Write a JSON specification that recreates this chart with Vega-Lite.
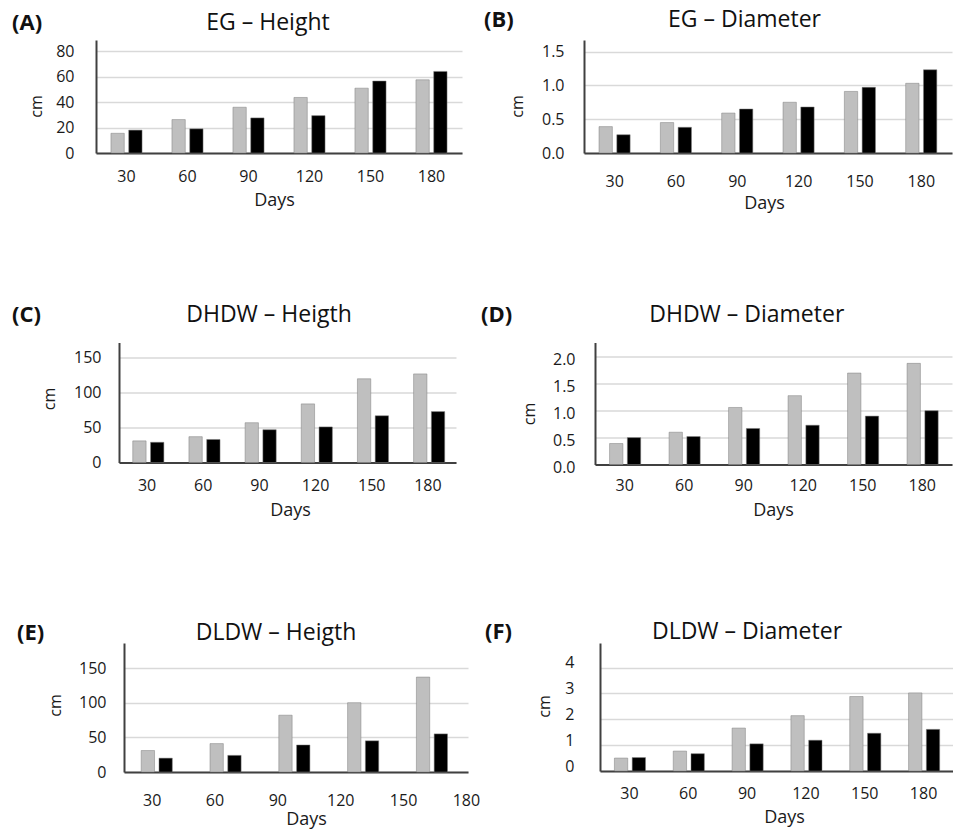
{
  "$schema": "https://vega.github.io/schema/vega-lite/v6.json",
  "padding": {"left": 11, "top": 9, "right": 0, "bottom": 0},
  "background": "white",
  "config": {
    "font": "Open Sans",
    "view": {"stroke": null},
    "axis": {"domainColor": "#404040", "domainWidth": 2, "ticks": false, "tickSize": 0, "labelColor": "#1a1a1a", "labelFontSize": 16, "labelFont": "Open Sans", "titleFont": "Open Sans", "titleFontSize": 18, "titleFontWeight": "normal", "titleColor": "#1a1a1a", "gridColor": "#d9d9d9", "gridWidth": 1.5},
    "axisX": {"grid": false, "labelAngle": 0},
    "axisY": {"grid": true, "titleFontSize": 16},
    "title": {"fontSize": 23, "fontWeight": "normal", "color": "#111111", "font": "Open Sans", "frame": "group"},
    "bar": {"stroke": "#7f7f7f", "strokeWidth": 0.5}
  },
  "columns": 1,
  "align": "none",
  "spacing": 90.5,
  "concat": [
    {
      "columns": 2,
      "align": "none",
      "spacing": 0,
      "concat": [
        {"width": 1, "height": 1, "data": {"values": []}, "mark": "point", "view": {"fill": "white", "stroke": null}},
        {
          "columns": 2,
          "align": "none",
          "spacing": 22,
          "concat": [
            {
              "title": {"text": "(A)", "anchor": "start", "frame": "bounds", "fontWeight": "bold", "fontSize": 22, "offset": -23, "dx": -16},
              "vconcat": [
                {
                  "width": 366, "height": 113,
                  "title": {"text": "EG – Height", "offset": 5, "dx": -11},
                  "data": {"values": [
                    {"day": 30, "series": "S1", "value": 15.5}, {"day": 30, "series": "S2", "value": 18},
                    {"day": 60, "series": "S1", "value": 26.3}, {"day": 60, "series": "S2", "value": 19},
                    {"day": 90, "series": "S1", "value": 36}, {"day": 90, "series": "S2", "value": 27.6},
                    {"day": 120, "series": "S1", "value": 43.7}, {"day": 120, "series": "S2", "value": 29.4},
                    {"day": 150, "series": "S1", "value": 51}, {"day": 150, "series": "S2", "value": 56.6},
                    {"day": 180, "series": "S1", "value": 57.6}, {"day": 180, "series": "S2", "value": 64.2}
                  ]},
                  "mark": "bar",
                  "encoding": {
                    "x": {"field": "day", "type": "ordinal", "title": "Days", "scale": {"paddingInner": 0.49, "paddingOuter": 0.245}, "axis": {"labelPadding": 15, "titlePadding": 7.5, "titleX": 178}},
                    "xOffset": {"field": "series", "type": "nominal", "scale": {"paddingInner": 0.25}},
                    "y": {"field": "value", "type": "quantitative", "title": "cm", "scale": {"domain": [0, 88.9], "nice": false}, "axis": {"values": [0, 20, 40, 60, 80], "labelPadding": 22, "titleX": -52, "titleY": 66}},
                    "color": {"field": "series", "type": "nominal", "scale": {"domain": ["S1", "S2"], "range": ["#bfbfbf", "#000000"]}, "legend": null}
                  }
                }
              ]
            },
            {
              "title": {"text": "(B)", "anchor": "start", "frame": "bounds", "fontWeight": "bold", "fontSize": 22, "offset": -23, "dx": -25},
              "vconcat": [
                {
                  "width": 368, "height": 113,
                  "title": {"text": "EG – Diameter", "offset": 8, "dx": -23.5},
                  "data": {"values": [
                    {"day": 30, "series": "S1", "value": 0.39}, {"day": 30, "series": "S2", "value": 0.27},
                    {"day": 60, "series": "S1", "value": 0.45}, {"day": 60, "series": "S2", "value": 0.38},
                    {"day": 90, "series": "S1", "value": 0.59}, {"day": 90, "series": "S2", "value": 0.65},
                    {"day": 120, "series": "S1", "value": 0.75}, {"day": 120, "series": "S2", "value": 0.68},
                    {"day": 150, "series": "S1", "value": 0.91}, {"day": 150, "series": "S2", "value": 0.97},
                    {"day": 180, "series": "S1", "value": 1.03}, {"day": 180, "series": "S2", "value": 1.23}
                  ]},
                  "mark": "bar",
                  "encoding": {
                    "x": {"field": "day", "type": "ordinal", "title": "Days", "scale": {"paddingInner": 0.49, "paddingOuter": 0.245}, "axis": {"labelPadding": 20, "titlePadding": 5.5, "titleX": 180}},
                    "xOffset": {"field": "series", "type": "nominal", "scale": {"paddingInner": 0.25}},
                    "y": {"field": "value", "type": "quantitative", "title": "cm", "scale": {"domain": [0, 1.67], "nice": false}, "axis": {"values": [0, 0.5, 1, 1.5], "format": ".1f", "labelPadding": 20, "titleX": -59, "titleY": 66}},
                    "color": {"field": "series", "type": "nominal", "scale": {"domain": ["S1", "S2"], "range": ["#bfbfbf", "#000000"]}, "legend": null}
                  }
                }
              ]
            }
          ]
        }
      ]
    },
    {
      "columns": 1,
      "align": "none",
      "spacing": 101.5,
      "concat": [
        {
          "columns": 2,
          "align": "none",
          "spacing": 0,
          "concat": [
            {"width": 1, "height": 1, "data": {"values": []}, "mark": "point", "view": {"fill": "white", "stroke": null}},
            {
              "columns": 2,
              "align": "none",
              "spacing": 25,
              "concat": [
                {
                  "title": {"text": "(C)", "anchor": "start", "frame": "bounds", "fontWeight": "bold", "fontSize": 22, "offset": -23, "dx": -29},
                  "vconcat": [
                    {
                      "width": 337, "height": 120,
                      "title": {"text": "DHDW – Heigth", "offset": 16, "dx": -18.5},
                      "data": {"values": [
                        {"day": 30, "series": "S1", "value": 31}, {"day": 30, "series": "S2", "value": 29},
                        {"day": 60, "series": "S1", "value": 37}, {"day": 60, "series": "S2", "value": 33},
                        {"day": 90, "series": "S1", "value": 57}, {"day": 90, "series": "S2", "value": 47},
                        {"day": 120, "series": "S1", "value": 84}, {"day": 120, "series": "S2", "value": 51},
                        {"day": 150, "series": "S1", "value": 120}, {"day": 150, "series": "S2", "value": 67},
                        {"day": 180, "series": "S1", "value": 127}, {"day": 180, "series": "S2", "value": 73}
                      ]},
                      "mark": "bar",
                      "encoding": {
                        "x": {"field": "day", "type": "ordinal", "title": "Days", "scale": {"paddingInner": 0.49, "paddingOuter": 0.245}, "axis": {"labelPadding": 15, "titlePadding": 7.5, "titleX": 171}},
                        "xOffset": {"field": "series", "type": "nominal", "scale": {"paddingInner": 0.25}},
                        "y": {"field": "value", "type": "quantitative", "title": "cm", "scale": {"domain": [0, 172], "nice": false}, "axis": {"values": [0, 50, 100, 150], "labelPadding": 18, "titleX": -62, "titleY": 56}},
                        "color": {"field": "series", "type": "nominal", "scale": {"domain": ["S1", "S2"], "range": ["#bfbfbf", "#000000"]}, "legend": null}
                      }
                    }
                  ]
                },
                {
                  "title": {"text": "(D)", "anchor": "start", "frame": "bounds", "fontWeight": "bold", "fontSize": 22, "offset": -23, "dx": -40},
                  "vconcat": [
                    {
                      "width": 357, "height": 122,
                      "title": {"text": "DHDW – Diameter", "offset": 16, "dx": -26.7},
                      "data": {"values": [
                        {"day": 30, "series": "S1", "value": 0.39}, {"day": 30, "series": "S2", "value": 0.5},
                        {"day": 60, "series": "S1", "value": 0.6}, {"day": 60, "series": "S2", "value": 0.52},
                        {"day": 90, "series": "S1", "value": 1.06}, {"day": 90, "series": "S2", "value": 0.67},
                        {"day": 120, "series": "S1", "value": 1.28}, {"day": 120, "series": "S2", "value": 0.73},
                        {"day": 150, "series": "S1", "value": 1.7}, {"day": 150, "series": "S2", "value": 0.9},
                        {"day": 180, "series": "S1", "value": 1.88}, {"day": 180, "series": "S2", "value": 1.0}
                      ]},
                      "mark": "bar",
                      "encoding": {
                        "x": {"field": "day", "type": "ordinal", "title": "Days", "scale": {"paddingInner": 0.49, "paddingOuter": 0.245}, "axis": {"labelPadding": 13, "titlePadding": 7.5, "titleX": 178}},
                        "xOffset": {"field": "series", "type": "nominal", "scale": {"paddingInner": 0.25}},
                        "y": {"field": "value", "type": "quantitative", "title": "cm", "scale": {"domain": [0, 2.268], "nice": false}, "axis": {"values": [0, 0.5, 1, 1.5, 2], "format": ".1f", "labelPadding": 20, "labelOffset": 3, "titleX": -58, "titleY": 71}},
                        "color": {"field": "series", "type": "nominal", "scale": {"domain": ["S1", "S2"], "range": ["#bfbfbf", "#000000"]}, "legend": null}
                      }
                    }
                  ]
                }
              ]
            }
          ]
        },
        {
          "columns": 2,
          "align": "none",
          "spacing": 0,
          "concat": [
            {"width": 6, "height": 1, "data": {"values": []}, "mark": "point", "view": {"fill": "white", "stroke": null}},
            {
              "columns": 2,
              "align": "none",
              "spacing": 5,
              "concat": [
                {
                  "title": {"text": "(E)", "anchor": "start", "frame": "bounds", "fontWeight": "bold", "fontSize": 22, "offset": -23, "dx": -30},
                  "vconcat": [
                    {
                      "width": 344, "height": 129,
                      "title": {"text": "DLDW – Heigth", "offset": -2.3, "dx": -20},
                      "layer": [
                        {
                          "data": {"values": [
                            {"day": 30, "series": "S1", "value": 31}, {"day": 30, "series": "S2", "value": 20},
                            {"day": 60, "series": "S1", "value": 41}, {"day": 60, "series": "S2", "value": 24},
                            {"day": 90, "series": "S1", "value": 82}, {"day": 90, "series": "S2", "value": 39},
                            {"day": 120, "series": "S1", "value": 100}, {"day": 120, "series": "S2", "value": 45},
                            {"day": 150, "series": "S1", "value": 137}, {"day": 150, "series": "S2", "value": 55}
                          ]},
                          "mark": "bar",
                          "encoding": {
                            "x": {"field": "day", "type": "ordinal", "scale": {"paddingInner": 0.5, "paddingOuter": 0.25}, "axis": {"orient": "bottom", "labels": false, "title": null}},
                            "xOffset": {"field": "series", "type": "nominal", "scale": {"paddingInner": 0.25}},
                            "y": {"field": "value", "type": "quantitative", "title": "cm", "scale": {"domain": [0, 186.2], "nice": false}, "axis": {"values": [0, 50, 100, 150], "labelPadding": 18, "titleX": -61, "titleY": 62}},
                            "color": {"field": "series", "type": "nominal", "scale": {"domain": ["S1", "S2"], "range": ["#bfbfbf", "#000000"]}, "legend": null}
                          }
                        },
                        {
                          "data": {"values": [{"day": 30}, {"day": 60}, {"day": 90}, {"day": 120}, {"day": 150}, {"day": 180}]},
                          "mark": {"type": "rule", "opacity": 0},
                          "encoding": {
                            "x": {"field": "day", "type": "quantitative", "scale": {"domain": [16.8, 181], "nice": false, "zero": false}, "axis": {"orient": "bottom", "values": [30, 60, 90, 120, 150, 180], "domain": false, "grid": false, "title": "Days", "labelFlush": false, "labelOverlap": false, "labelPadding": 20, "titlePadding": 2.4, "titleX": 182}}
                          }
                        }
                      ],
                      "resolve": {"scale": {"x": "independent"}, "axis": {"x": "independent"}}
                    }
                  ]
                },
                {
                  "title": {"text": "(F)", "anchor": "start", "frame": "bounds", "fontWeight": "bold", "fontSize": 22, "offset": -23, "dx": -51},
                  "vconcat": [
                    {
                      "width": 353, "height": 128,
                      "title": {"text": "DLDW – Diameter", "offset": -1, "dx": -29.5},
                      "data": {"values": [
                        {"day": 30, "series": "S1", "value": 0.5}, {"day": 30, "series": "S2", "value": 0.52},
                        {"day": 60, "series": "S1", "value": 0.77}, {"day": 60, "series": "S2", "value": 0.67},
                        {"day": 90, "series": "S1", "value": 1.66}, {"day": 90, "series": "S2", "value": 1.05},
                        {"day": 120, "series": "S1", "value": 2.14}, {"day": 120, "series": "S2", "value": 1.19},
                        {"day": 150, "series": "S1", "value": 2.88}, {"day": 150, "series": "S2", "value": 1.46},
                        {"day": 180, "series": "S1", "value": 3.02}, {"day": 180, "series": "S2", "value": 1.61}
                      ]},
                      "mark": "bar",
                      "encoding": {
                        "x": {"field": "day", "type": "ordinal", "title": "Days", "scale": {"paddingInner": 0.49, "paddingOuter": 0.245}, "axis": {"labelPadding": 14.4, "titlePadding": 7.4, "titleX": 184}},
                        "xOffset": {"field": "series", "type": "nominal", "scale": {"paddingInner": 0.25}},
                        "y": {"field": "value", "type": "quantitative", "title": "cm", "scale": {"domain": [0, 4.95], "nice": false}, "axis": {"values": [0, 1, 2, 3, 4], "labelPadding": 26, "labelOffset": -5, "titleX": -48, "titleY": 63}},
                        "color": {"field": "series", "type": "nominal", "scale": {"domain": ["S1", "S2"], "range": ["#bfbfbf", "#000000"]}, "legend": null}
                      }
                    }
                  ]
                }
              ]
            }
          ]
        }
      ]
    }
  ]
}
